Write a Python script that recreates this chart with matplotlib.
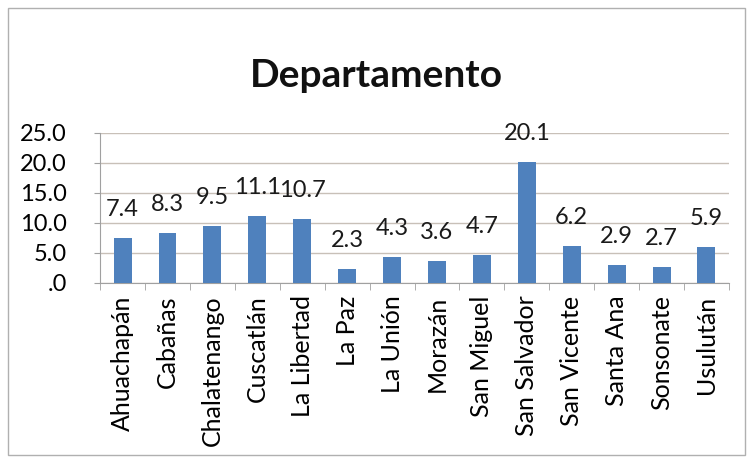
import matplotlib.pyplot as plt
import numpy as np
from matplotlib.patches import Rectangle

departamentos = ['Ahuachapán', 'Cabañas', 'Chalatenango', 'Cuscatlán', 'La Libertad',
                 'La Paz', 'La Unión', 'Morazán', 'San Miguel', 'San Salvador',
                 'San Vicente', 'Santa Ana', 'Sonsonate', 'Usulután']
valores = [7.4, 8.3, 9.5, 11.1, 10.7, 2.3, 4.3, 3.6, 4.7, 20.1, 6.2, 2.9, 2.7, 5.9]
y_ticks = [0, 5, 10, 15, 20, 25]

plt.rcParams['font.family'] = ['Lato', 'DejaVu Sans']

fig = plt.figure(figsize=(7.53, 4.63), dpi=100)
ax = fig.add_axes([0.133, 0.389, 0.835, 0.324])

x = np.arange(len(departamentos))
ax.bar(x, valores, width=0.4, color='#4F81BD', zorder=3)

for xi, v in zip(x, valores):
    ax.annotate(f'{v:.1f}', (xi, v), xytext=(0, 13), textcoords='offset points',
                ha='center', va='bottom', fontsize=17, color='#1a1a1a')

ax.set_xlim(-0.5, len(departamentos) - 0.5)
ax.set_ylim(0, 25)
ax.set_yticks(y_ticks)
ax.set_yticklabels(['.0' if t == 0 else f'{t:.1f}' for t in y_ticks], fontsize=17)
ax.yaxis.grid(True, color='#C8C0B8', linewidth=1, zorder=0)

ax.set_xticks(x)
ax.set_xticklabels(departamentos, rotation=90, fontsize=18)
ax.set_xticks(np.arange(-0.5, len(departamentos)), minor=True)
ax.tick_params(axis='x', which='major', length=0, pad=9)
ax.tick_params(axis='x', which='minor', length=5, color='#A0A0A0')
ax.tick_params(axis='y', length=4, color='#A0A0A0', pad=20)

for s in ['top', 'right']:
    ax.spines[s].set_visible(False)
for s in ['left', 'bottom']:
    ax.spines[s].set_color('#A0A0A0')

fig.text(0.5, 0.838, 'Departamento', ha='center', va='center',
         fontsize=28, fontweight='bold', color='#111111')

fig.patches.append(Rectangle((0.011, 0.017), 0.978, 0.966, transform=fig.transFigure,
                             fill=False, edgecolor='#B0B0B0', linewidth=1))

fig.savefig('out.png', dpi=100)
